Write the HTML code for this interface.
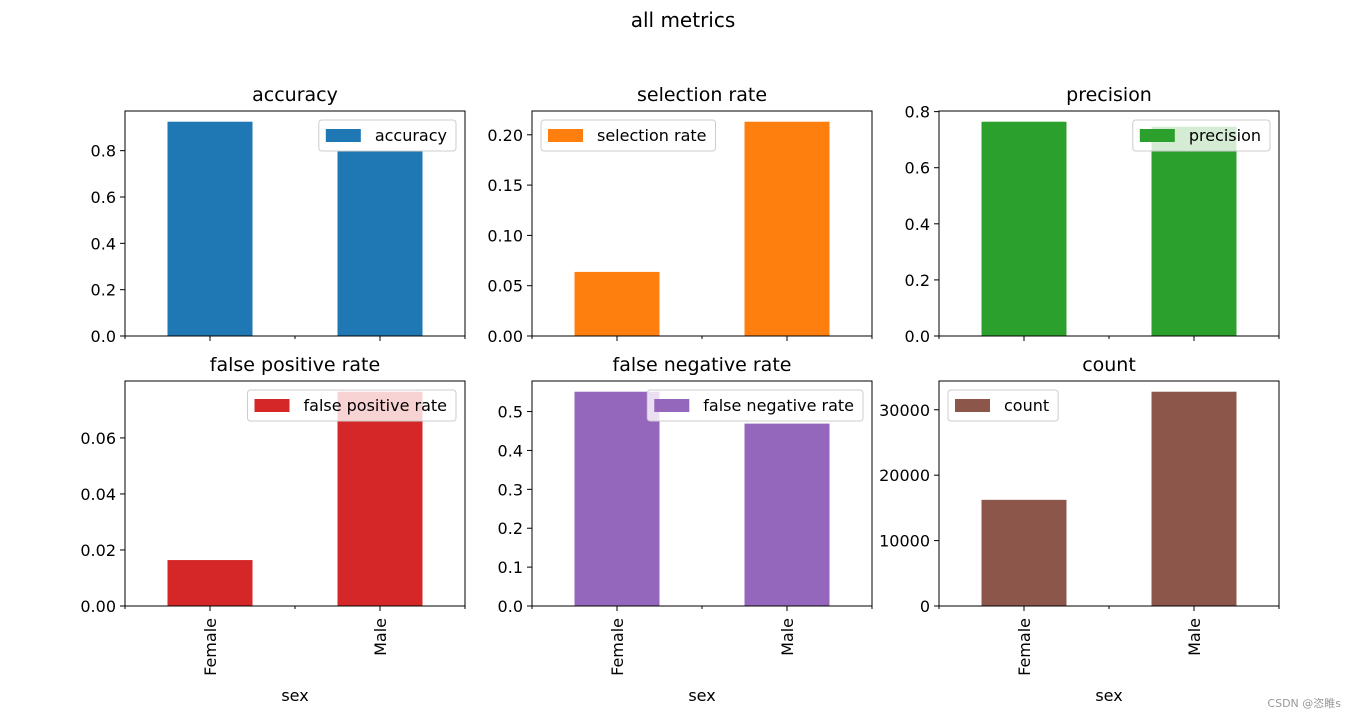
<!DOCTYPE html>
<html><head><meta charset="utf-8"><style>
body{margin:0;background:#fff;}
svg{display:block;font-family:"DejaVu Sans","Liberation Sans",sans-serif;}
</style></head><body>
<svg id="chart" width="1357" height="718" viewBox="0 0 1357 718">
<text x="683" y="27" text-anchor="middle" font-size="20">all metrics</text>
<text x="1341" y="707" text-anchor="end" font-size="11" fill="#999">CSDN @恣睢s</text>
</svg>
<script>
const categories = ["Female", "Male"];
const metricNames = ["accuracy","selection rate","precision","false positive rate","false negative rate","count"];
const accuracyValues = [0.925, 0.80];
const selectionRateValues = [0.0637, 0.213];
const precisionValues = [0.764, 0.746];
const fprValues = [0.0164, 0.0765];
const fnrValues = [0.551, 0.469];
const countValues = [16230, 32760];
const tickSets = [
  [0,0.2,0.4,0.6,0.8],
  [0,0.05,0.10,0.15,0.20],
  [0,0.2,0.4,0.6,0.8],
  [0,0.02,0.04,0.06],
  [0,0.1,0.2,0.3,0.4,0.5],
  [0,10000,20000,30000]
];
const tickLabelSets = [
  ["0.0","0.2","0.4","0.6","0.8"],
  ["0.00","0.05","0.10","0.15","0.20"],
  ["0.0","0.2","0.4","0.6","0.8"],
  ["0.00","0.02","0.04","0.06"],
  ["0.0","0.1","0.2","0.3","0.4","0.5"],
  ["0","10000","20000","30000"]
];
const seriesList = [accuracyValues, selectionRateValues, precisionValues, fprValues, fnrValues, countValues];
const colors = ["#1f77b4","#ff7f0e","#2ca02c","#d62728","#9467bd","#8c564b"];
const legendRight = [true,false,true,true,true,false];

const svg = document.getElementById('chart');
const NS = "http://www.w3.org/2000/svg";
function mk(tag, attrs, parent){const e=document.createElementNS(NS,tag);for(const k in attrs)e.setAttribute(k,attrs[k]);(parent||svg).appendChild(e);return e;}
const colX=[125,532,939], rowY=[111,381], W=340, H=225;

seriesList.forEach((vals,i)=>{
  const col=i%3,row=Math.floor(i/3);
  const L=colX[col],T=rowY[row],B=T+H;
  const g=mk('g',{});
  
  
  const ymax=Math.max(...vals)*1.05;
  const y=v=>B-v/ymax*H;
  const x=c=>L+(c+0.5)/2*W;
  vals.forEach((v,c)=>{
    const r=mk('rect',{x:x(c)-W/8,y:y(v),width:W/4,height:B-y(v),fill:colors[i]},g);
    
    
  });
  const f=mk('rect',{x:L,y:T,width:W,height:H,fill:'none',stroke:'#000','stroke-width':1},g);
  
  
  tickSets[i].forEach((t,k)=>{
    mk('line',{x1:L-5,x2:L,y1:y(t),y2:y(t),stroke:'#000'},g);
    const tx=mk('text',{x:L-9,y:y(t)+6,'text-anchor':'end','font-size':16},g);
    tx.textContent=tickLabelSets[i][k];
    
    
  });
  categories.forEach((c,k)=>{
    mk('line',{x1:x(k),x2:x(k),y1:B,y2:B+5,stroke:'#000'},g);
  });
  [L,L+W/2,L+W].forEach(px=>mk('line',{x1:px,x2:px,y1:B,y2:B+3,stroke:'#000'},g));
  if(row===1){
    categories.forEach((c,k)=>{
      const tx=mk('text',{x:0,y:0,'text-anchor':'end','font-size':16,transform:`translate(${x(k)+6},${B+12}) rotate(-90)`},g);
      tx.textContent=c;
      
      
    });
    const xl=mk('text',{x:L+W/2,y:701,'text-anchor':'middle','font-size':16},g);
    xl.textContent='sex';
    
    
  }
  const tt=mk('text',{x:L+W/2,y:T-10,'text-anchor':'middle','font-size':19},g);
  tt.textContent=metricNames[i];
  
  
  const lg=mk('g',{},g);
  
  
  const box=mk('rect',{y:T+9,height:31,rx:3,fill:'rgba(255,255,255,0.8)',stroke:'#ccc'},lg);
  const sw=mk('rect',{y:T+18,width:35,height:13,fill:colors[i]},lg);
  const lt=mk('text',{y:T+30,'font-size':16},lg);
  lt.textContent=metricNames[i];
  const tw=lt.getComputedTextLength();
  const lw=tw+65;
  const lx=legendRight[i]?L+W-9-lw:L+9;
  box.setAttribute('x',lx);box.setAttribute('width',lw);
  sw.setAttribute('x',lx+7);
  lt.setAttribute('x',lx+56);
});
</script>
</body></html>
